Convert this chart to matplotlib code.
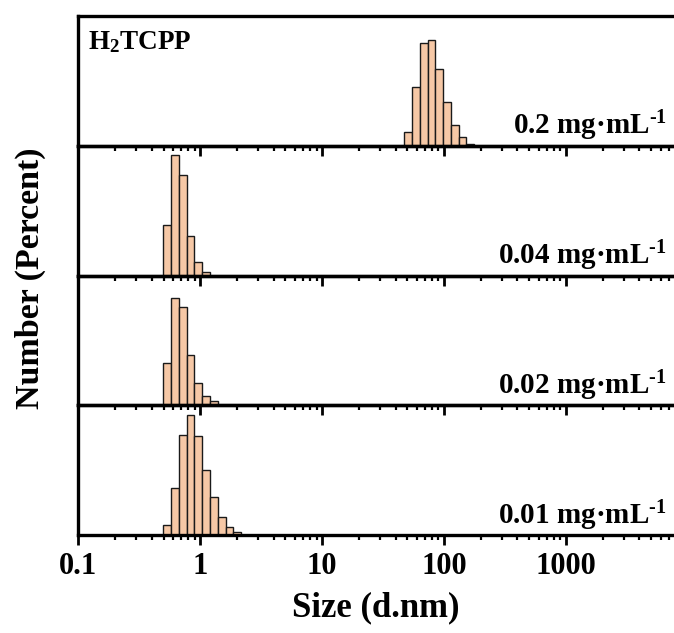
import numpy as np
import matplotlib
matplotlib.use('Agg')
import matplotlib.pyplot as plt
from matplotlib.ticker import LogLocator, NullFormatter, FixedLocator, FixedFormatter

plt.rcParams['font.family'] = 'Liberation Serif'
plt.rcParams['font.weight'] = 'bold'
plt.rcParams['mathtext.fontset'] = 'custom'
plt.rcParams['mathtext.rm'] = 'Liberation Serif:bold'
plt.rcParams['mathtext.it'] = 'Liberation Serif:bold'
plt.rcParams['mathtext.bf'] = 'Liberation Serif:bold'

# size classes (d.nm) and number distribution (%) for each concentration
size_02 = [50.75, 58.77, 68.06, 78.82, 91.28, 105.7, 122.4, 141.8, 164.2]
num_02 = [3.2, 13.6, 23.7, 24.4, 17.7, 10.1, 4.8, 2.0, 0.5]

size_004 = [0.5365, 0.6213, 0.7195, 0.8332, 0.9649, 1.117]
num_004 = [15.2, 36.7, 30.6, 12.1, 4.2, 1.2]

size_002 = [0.5365, 0.6213, 0.7195, 0.8332, 0.9649, 1.117, 1.294]
num_002 = [12.7, 32.1, 29.6, 15.0, 6.8, 2.7, 1.2]

size_001 = [0.5365, 0.6213, 0.7195, 0.8332, 0.9649, 1.117, 1.294, 1.499, 1.736, 2.01]
num_001 = [2.0, 9.3, 19.7, 23.5, 19.5, 12.7, 7.4, 3.6, 1.6, 0.6]

labels = ['0.2', '0.04', '0.02', '0.01']
sizes = [size_02, size_004, size_002, size_001]
nums = [num_02, num_004, num_002, num_001]
ytops = [29.9, 39.4, 38.9, 25.5]

tick_vals = [0.1, 1, 10, 100, 1000]
tick_text = ['0.1', '1', '10', '100', '1000']

step = 10 ** 0.0637  # ratio between neighbouring size classes

fig = plt.figure(figsize=(6.74, 6.33), dpi=100)
left, right = 78.3 / 674, 1.0
top_px, h_px = 16, 129.75
axes = []
for i in range(4):
    y0 = 1 - (top_px + (i + 1) * h_px) / 633
    ax = fig.add_axes([left, y0, right - left, h_px / 633])
    ax.patch.set_alpha(0)
    axes.append(ax)

for i, ax in enumerate(axes):
    s = np.array(sizes[i])
    lo = s / np.sqrt(step)
    hi = s * np.sqrt(step)
    ax.bar(lo, nums[i], width=hi - lo, align='edge', color='#F6C8A6',
           edgecolor='#1a1a1a', linewidth=1.0, zorder=2)
    ax.set_xscale('log')
    ax.set_xlim(0.1, 7700)
    ax.set_ylim(0, ytops[i])
    ax.set_yticks([])
    for sp in ['left', 'top', 'bottom']:
        ax.spines[sp].set_linewidth(2.4)
    ax.spines['right'].set_visible(False)
    ax.xaxis.set_major_locator(FixedLocator(tick_vals))
    ax.xaxis.set_minor_locator(LogLocator(base=10, subs=np.arange(2, 10), numticks=20))
    ax.xaxis.set_minor_formatter(NullFormatter())
    ax.tick_params(axis='x', which='major', direction='out', length=7, width=2.0)
    ax.tick_params(axis='x', which='minor', direction='out', length=3.5, width=1.6)
    if i < 3:
        ax.xaxis.set_major_formatter(NullFormatter())
    else:
        ax.xaxis.set_major_formatter(FixedFormatter(tick_text))
        ax.tick_params(axis='x', which='major', labelsize=22, pad=5)
    ax.text(0.988, 0.085, labels[i] + ' mg\u00b7mL$^{\\text{-1}}$', transform=ax.transAxes,
            ha='right', va='baseline', fontsize=21, fontweight='bold')

axes[0].text(0.016, 0.746, 'H$_2$TCPP', transform=axes[0].transAxes,
             ha='left', va='baseline', fontsize=19.5, fontweight='bold')

axes[3].set_xlabel('Size (d.nm)', fontsize=25, fontweight='bold', labelpad=8)
fig.text(0.045, 1 - 278 / 633, 'Number (Percent)', rotation=90, ha='center', va='center',
         fontsize=24.5, fontweight='bold')

fig.savefig('out.png', dpi=100)
